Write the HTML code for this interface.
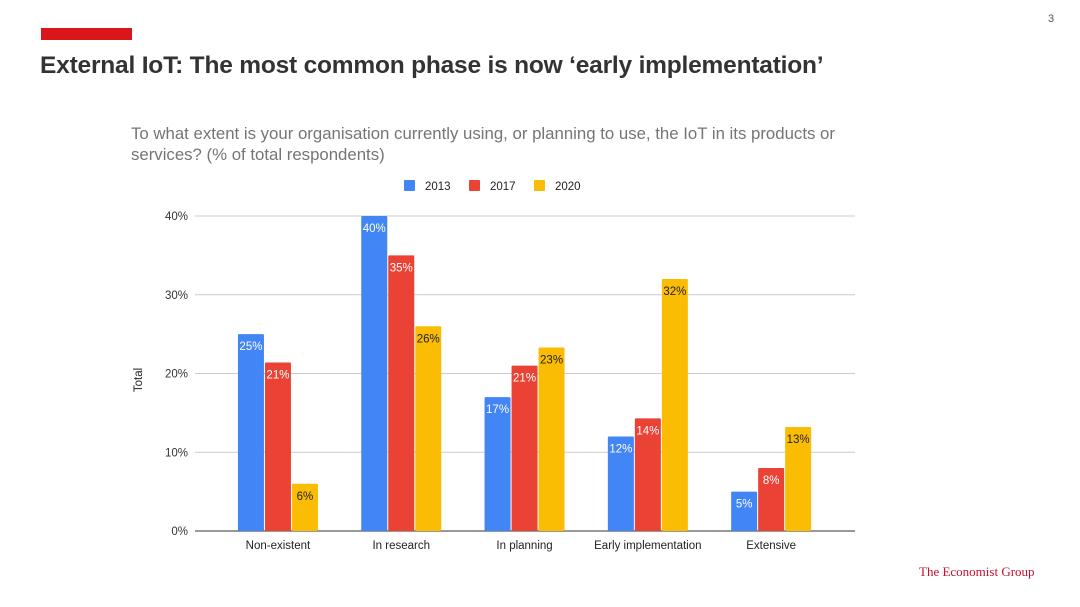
<!DOCTYPE html>
<html><head><meta charset="utf-8"><style>
body{margin:0;background:#fff;font-family:"Liberation Sans",Arial,sans-serif}
#wrap{position:relative;width:1080px;height:607px;overflow:hidden;background:#fff}
</style></head><body>
<div id="wrap">
<div style="position:absolute;left:41px;top:28px;width:91px;height:12px;background:#d9161a"></div>
<div style="position:absolute;left:1048px;top:13px;font-size:11px;color:#555">3</div>
<div style="position:absolute;left:40px;top:52px;font-size:24.5px;font-weight:bold;color:#333;letter-spacing:-0.2px;white-space:nowrap">External IoT: The most common phase is now ‘early implementation’</div>
<div style="position:absolute;left:131px;top:123px;width:760px;font-size:16.8px;line-height:21px;color:#757575">To what extent is your organisation currently using, or planning to use, the IoT in its products or services? (% of total respondents)</div>
<div style="position:absolute;left:919px;top:564px;font-family:'Liberation Serif',serif;font-size:13px;color:#c8102e">The Economist Group</div>
<svg id="chart" width="1080" height="607" style="position:absolute;left:0;top:0"></svg>
</div>
<script>
const categories=["Non-existent","In research","In planning","Early implementation","Extensive"];
const seriesNames=["2013","2017","2020"];
const values2013=[25,40,17,12,5];
const values2017=[21.4,35,21,14.3,8];
const values2020=[6,26,23.3,32,13.2];
const yTicks=[0,10,20,30,40];
const colors=["#4285f4","#ea4335","#fbbc04"];
const labelColors=["#ffffff","#ffffff","#222222"];
const series=[values2013,values2017,values2020];
const svg=document.getElementById('chart');
const NS="http://www.w3.org/2000/svg";
const x0=195,x1=855,y0=531,yTop=216,maxV=40;
const y=v=>y0-(v/maxV)*(y0-yTop);
const band=123.3,offset=21.3;
const bw=26,gap=1;
function mk(t,a){const e=document.createElementNS(NS,t);for(const k in a)e.setAttribute(k,a[k]);svg.appendChild(e);return e;}
yTicks.forEach(t=>{
 const l=mk('line',{x1:x0,x2:x1,y1:y(t),y2:y(t),stroke:t===0?'#333':'#ccc','stroke-width':1});
 
 
 const tx=mk('text',{x:188,y:y(t)+4,'text-anchor':'end','font-size':11.5,fill:'#333'});
 tx.textContent=t+'%';
 
 
});
const yt=mk('text',{x:0,y:0,'font-size':11.5,fill:'#222',transform:'translate(142,380) rotate(-90)','text-anchor':'middle'});
yt.textContent='Total';


categories.forEach((c,i)=>{
 const cx=x0+offset+band*(i+0.5);
 const tx=mk('text',{x:cx,y:549,'text-anchor':'middle','font-size':11.5,fill:'#222'});
 tx.textContent=c;
 
 
 series.forEach((s,j)=>{
  const bx=cx-(3*bw+2*gap)/2+j*(bw+gap);
  const r=mk('rect',{x:bx,y:y(s[i]),width:bw,height:y0-y(s[i]),fill:colors[j],rx:1});
  
  
  const lb=mk('text',{x:bx+bw/2,y:y(s[i])+16,'text-anchor':'middle','font-size':11.5,fill:labelColors[j]});
  lb.textContent=Math.round(s[i])+'%';
  
  
 });
});
const lx=[404,469,534];
seriesNames.forEach((n,j)=>{
 const r=mk('rect',{x:lx[j],y:180,width:11,height:11,fill:colors[j],rx:1});
 
 
 const t=mk('text',{x:lx[j]+21,y:190,'font-size':11.5,fill:'#222'});
 t.textContent=n;
 
 
});
</script>
</body></html>
